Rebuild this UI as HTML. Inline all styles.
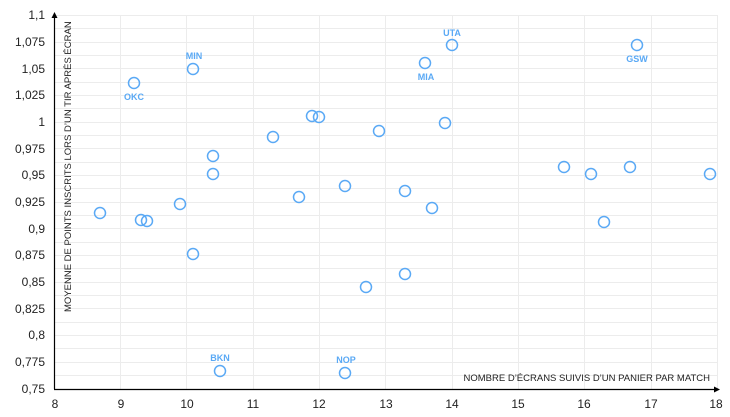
<!DOCTYPE html>
<html><head><meta charset="utf-8"><style>body{margin:0;background:#fff}svg{display:block;font-family:"Liberation Sans",sans-serif}</style></head><body>
<svg width="730" height="417" viewBox="0 0 730 417">
<g stroke="#ececec" stroke-width="1">
<line x1="54" y1="15.5" x2="717" y2="15.5"/><line x1="54" y1="28.5" x2="717" y2="28.5"/><line x1="54" y1="42.5" x2="717" y2="42.5"/><line x1="54" y1="55.5" x2="717" y2="55.5"/><line x1="54" y1="68.5" x2="717" y2="68.5"/><line x1="54" y1="82.5" x2="717" y2="82.5"/><line x1="54" y1="95.5" x2="717" y2="95.5"/><line x1="54" y1="108.5" x2="717" y2="108.5"/><line x1="54" y1="122.5" x2="717" y2="122.5"/><line x1="54" y1="135.5" x2="717" y2="135.5"/><line x1="54" y1="148.5" x2="717" y2="148.5"/><line x1="54" y1="162.5" x2="717" y2="162.5"/><line x1="54" y1="175.5" x2="717" y2="175.5"/><line x1="54" y1="188.5" x2="717" y2="188.5"/><line x1="54" y1="202.5" x2="717" y2="202.5"/><line x1="54" y1="215.5" x2="717" y2="215.5"/><line x1="54" y1="228.5" x2="717" y2="228.5"/><line x1="54" y1="242.5" x2="717" y2="242.5"/><line x1="54" y1="255.5" x2="717" y2="255.5"/><line x1="54" y1="268.5" x2="717" y2="268.5"/><line x1="54" y1="282.5" x2="717" y2="282.5"/><line x1="54" y1="295.5" x2="717" y2="295.5"/><line x1="54" y1="308.5" x2="717" y2="308.5"/><line x1="54" y1="322.5" x2="717" y2="322.5"/><line x1="54" y1="335.5" x2="717" y2="335.5"/><line x1="54" y1="348.5" x2="717" y2="348.5"/><line x1="54" y1="362.5" x2="717" y2="362.5"/><line x1="54" y1="375.5" x2="717" y2="375.5"/>
<line x1="120.5" y1="15" x2="120.5" y2="389"/><line x1="186.5" y1="15" x2="186.5" y2="389"/><line x1="253.5" y1="15" x2="253.5" y2="389"/><line x1="319.5" y1="15" x2="319.5" y2="389"/><line x1="385.5" y1="15" x2="385.5" y2="389"/><line x1="452.5" y1="15" x2="452.5" y2="389"/><line x1="518.5" y1="15" x2="518.5" y2="389"/><line x1="584.5" y1="15" x2="584.5" y2="389"/><line x1="651.5" y1="15" x2="651.5" y2="389"/><line x1="717.5" y1="15" x2="717.5" y2="389"/>
</g>
<g stroke="#000" stroke-width="1.2"><line x1="54.5" y1="389" x2="54.5" y2="15"/><line x1="54" y1="389.5" x2="717" y2="389.5"/></g>
<path d="M51.5,18 L54.5,12 L57.5,18Z M714,386.5 L720,389.5 L714,392.5Z" fill="#000"/>
<g font-size="12" fill="#222" text-anchor="end">
<text x="45" y="19">1,1</text><text x="45" y="46">1,075</text><text x="45" y="73">1,05</text><text x="45" y="99">1,025</text><text x="45" y="126">1</text><text x="45" y="153">0,975</text><text x="45" y="179">0,95</text><text x="45" y="206">0,925</text><text x="45" y="233">0,9</text><text x="45" y="259">0,875</text><text x="45" y="286">0,85</text><text x="45" y="313">0,825</text><text x="45" y="339">0,8</text><text x="45" y="366">0,775</text><text x="45" y="393">0,75</text>
</g>
<g font-size="12" fill="#222" text-anchor="middle">
<text x="55" y="408">8</text><text x="121" y="408">9</text><text x="187" y="408">10</text><text x="253" y="408">11</text><text x="319" y="408">12</text><text x="386" y="408">13</text><text x="452" y="408">14</text><text x="518" y="408">15</text><text x="584" y="408">16</text><text x="651" y="408">17</text><text x="716" y="408">18</text>
</g>
<text x="710" y="381" font-size="9.5" fill="#222" text-anchor="end">NOMBRE D’ÉCRANS SUIVIS D’UN PANIER PAR MATCH</text>
<text transform="translate(71,312) rotate(-90)" font-size="9.5" fill="#222">MOYENNE DE POINTS INSCRITS LORS D’UN TIR APRÈS ÉCRAN</text>
<g fill="none" stroke="#5aa9f5" stroke-width="1.5">
<circle cx="100" cy="213" r="5.5"/><circle cx="134" cy="83" r="5.5"/><circle cx="141" cy="220" r="5.5"/><circle cx="147" cy="221" r="5.5"/><circle cx="180" cy="204" r="5.5"/><circle cx="193" cy="69" r="5.5"/><circle cx="193" cy="254" r="5.5"/><circle cx="213" cy="156" r="5.5"/><circle cx="213" cy="174" r="5.5"/><circle cx="220" cy="371" r="5.5"/><circle cx="273" cy="137" r="5.5"/><circle cx="299" cy="197" r="5.5"/><circle cx="312" cy="116" r="5.5"/><circle cx="319" cy="117" r="5.5"/><circle cx="345" cy="186" r="5.5"/><circle cx="345" cy="373" r="5.5"/><circle cx="366" cy="287" r="5.5"/><circle cx="379" cy="131" r="5.5"/><circle cx="405" cy="191" r="5.5"/><circle cx="405" cy="274" r="5.5"/><circle cx="425" cy="63" r="5.5"/><circle cx="432" cy="208" r="5.5"/><circle cx="445" cy="123" r="5.5"/><circle cx="452" cy="45" r="5.5"/><circle cx="564" cy="167" r="5.5"/><circle cx="591" cy="174" r="5.5"/><circle cx="604" cy="222" r="5.5"/><circle cx="630" cy="167" r="5.5"/><circle cx="637" cy="45" r="5.5"/><circle cx="710" cy="174" r="5.5"/>
</g>
<g font-size="9" font-weight="bold" fill="#5aa9f5" text-anchor="middle">
<text x="194" y="59">MIN</text><text x="134" y="100">OKC</text><text x="452" y="36">UTA</text><text x="426" y="80">MIA</text><text x="637" y="62">GSW</text><text x="220" y="361">BKN</text><text x="346" y="363">NOP</text>
</g>
</svg>
</body></html>
